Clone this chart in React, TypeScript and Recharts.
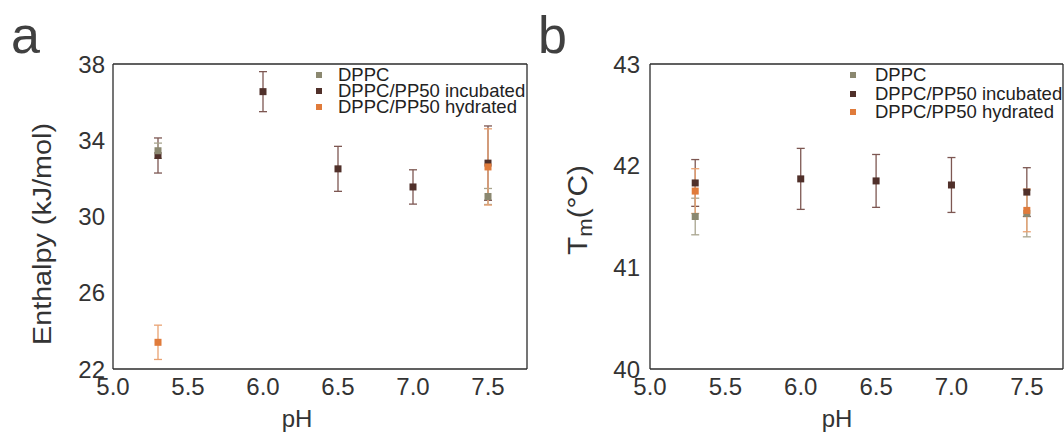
import React from 'react';
import { ScatterChart, Scatter, XAxis, YAxis, ErrorBar, Legend } from 'recharts';

const FONT = '"Liberation Sans", Arial, Helvetica, sans-serif';

// series (legend order)
const seriesNames = ['DPPC', 'DPPC/PP50 incubated', 'DPPC/PP50 hydrated'];
const seriesColors = ['#8b8870', '#50302a', '#e07b3b'];
const errorColors = ['#a8a48e', '#7d5752', '#e9a272'];

// x values (pH)
const phDppc = [5.3, 7.5];
const phIncubated = [5.3, 6.0, 6.5, 7.0, 7.5];
const phHydrated = [5.3, 7.5];

// panel a: enthalpy (kJ/mol)
const enthalpyDppc = [33.45, 31.05];
const enthalpyDppcErr = [0.4, 0.42];
const enthalpyIncubated = [33.2, 36.55, 32.5, 31.55, 32.8];
const enthalpyIncubatedErr = [0.92, 1.05, 1.18, 0.9, 1.95];
const enthalpyHydrated = [23.4, 32.6];
const enthalpyHydratedErr = [0.9, 2.0];

// panel b: Tm (°C)
const tmDppc = [41.5, 41.53];
const tmDppcErr = [0.18, 0.23];
const tmIncubated = [41.83, 41.87, 41.85, 41.81, 41.74];
const tmIncubatedErr = [0.23, 0.3, 0.26, 0.27, 0.24];
const tmHydrated = [41.75, 41.56];
const tmHydratedErr = [0.22, 0.21];

// ticks
const xLabelTicks = [5.0, 5.5, 6.0, 6.5, 7.0, 7.5];
const xMinorTicks = [5.25, 5.75, 6.25, 6.75, 7.25];
const enthalpyLabelTicks = [22, 26, 30, 34, 38];
const enthalpyTicks = [22, 23, 24, 25, 26, 27, 28, 29, 30, 31, 32, 33, 34, 35, 36, 37, 38];
const tmLabelTicks = [40, 41, 42, 43];
const tmMinorTicks = [40.5, 41.5, 42.5];
const tmRightTicks = [40, 40.5, 41, 41.5, 42, 42.5, 43];

const toPoints = (xs: number[], ys: number[], es: number[]) =>
  xs.map((x, i) => ({ ph: x, value: ys[i], err: es[i] }));

// draw order: incubated first, then DPPC, then hydrated on top
const enthalpySeries = [
  { idx: 1, data: toPoints(phIncubated, enthalpyIncubated, enthalpyIncubatedErr) },
  { idx: 0, data: toPoints(phDppc, enthalpyDppc, enthalpyDppcErr) },
  { idx: 2, data: toPoints(phHydrated, enthalpyHydrated, enthalpyHydratedErr) },
];
const tmSeries = [
  { idx: 1, data: toPoints(phIncubated, tmIncubated, tmIncubatedErr) },
  { idx: 0, data: toPoints(phDppc, tmDppc, tmDppcErr) },
  { idx: 2, data: toPoints(phHydrated, tmHydrated, tmHydratedErr) },
];

const AXIS = '#2b2b2b';
const tickStyle = { fontSize: 24, fill: '#333', fontFamily: FONT };

const squareShape = (color: string) => (p: any) =>
  <rect x={p.cx - 3.5} y={p.cy - 3.5} width={7} height={7} fill={color} />;

const LegendBox = ({ left, top, rowH, textLeft }: any) => (
  <div style={{ position: 'absolute', left, top, fontFamily: FONT, fontSize: 18.5, color: '#222', whiteSpace: 'nowrap' }}>
    {seriesNames.map((n, i) => (
      <div key={n} style={{ position: 'relative', height: rowH, lineHeight: rowH + 'px' }}>
        <span style={{ position: 'absolute', left: 0, top: rowH / 2 - 3, width: 6, height: 6, background: seriesColors[i] }} />
        <span style={{ position: 'absolute', left: textLeft }}>{n}</span>
      </div>
    ))}
  </div>
);

const Panel = ({ width, yWidth, marginRight, xDomain, yDomain, yLabelTicks, yMajor, yMajorSize, yMinor, yRight, series, legend }: any) => (
  <ScatterChart width={width} height={434} margin={{ top: 64, right: marginRight, bottom: 0, left: 0 }}>
    <XAxis xAxisId="x" dataKey="ph" type="number" domain={xDomain} allowDataOverflow ticks={xLabelTicks}
      tickFormatter={(v: number) => v.toFixed(1)} tick={tickStyle} tickLine={false} tickSize={0} tickMargin={9}
      height={65} axisLine={{ stroke: AXIS, strokeWidth: 1.3 }} interval={0} />
    <XAxis xAxisId="xMaj" type="number" domain={xDomain} allowDataOverflow ticks={xLabelTicks} mirror height={20}
      tick={false} tickSize={6} tickLine={{ stroke: AXIS, strokeWidth: 1 }} axisLine={false} interval={0} />
    <XAxis xAxisId="xMin" type="number" domain={xDomain} allowDataOverflow ticks={xMinorTicks} mirror height={20}
      tick={false} tickSize={3} tickLine={{ stroke: AXIS, strokeWidth: 1 }} axisLine={false} interval={0} />
    <XAxis xAxisId="xTop" orientation="top" type="number" domain={xDomain} allowDataOverflow ticks={xLabelTicks} mirror height={20}
      tick={false} tickLine={false} axisLine={{ stroke: AXIS, strokeWidth: 1.3 }} interval={0} />
    <YAxis yAxisId="y" dataKey="value" type="number" domain={yDomain} allowDataOverflow ticks={yLabelTicks}
      tick={tickStyle} tickLine={false} tickSize={0} tickMargin={yWidth === 113 ? 8 : 10} width={yWidth}
      axisLine={{ stroke: AXIS, strokeWidth: 1.3 }} interval={0} />
    <YAxis yAxisId="yMaj" type="number" domain={yDomain} allowDataOverflow ticks={yMajor} mirror width={20}
      tick={false} tickSize={yMajorSize} tickLine={{ stroke: AXIS, strokeWidth: 1 }} axisLine={false} interval={0} />
    <YAxis yAxisId="yMin" type="number" domain={yDomain} allowDataOverflow ticks={yMinor} mirror width={20}
      tick={false} tickSize={3} tickLine={{ stroke: AXIS, strokeWidth: 1 }} axisLine={false} interval={0} />
    <YAxis yAxisId="yRight" orientation="right" type="number" domain={yDomain} allowDataOverflow ticks={yRight} mirror width={20}
      tick={false} tickSize={4} tickLine={{ stroke: AXIS, strokeWidth: 1 }} axisLine={{ stroke: AXIS, strokeWidth: 1.3 }} interval={0} />
    {series.map((s: any) => (
      <Scatter key={s.idx} name={seriesNames[s.idx]} data={s.data} xAxisId="x" yAxisId="y"
        fill={seriesColors[s.idx]} shape={squareShape(seriesColors[s.idx])} isAnimationActive={false}>
        <ErrorBar dataKey="err" direction="y" width={4} strokeWidth={1.3} stroke={errorColors[s.idx]} isAnimationActive={false} />
      </Scatter>
    ))}
    <Legend layout="vertical" align="center" verticalAlign="middle"
      wrapperStyle={{ top: 0, left: 0, width: 0, height: 0 }}
      content={() => <LegendBox {...legend} />} />
  </ScatterChart>
);

export default function App() {
  return (
    <div style={{ position: 'absolute', left: 0, top: 0, width: 1064, height: 434, background: '#fff', overflow: 'hidden' }}>
      <div style={{ position: 'absolute', left: 0, top: 0 }}>
        <Panel width={540} yWidth={113} marginRight={13} xDomain={[5, 7.76]} yDomain={[22, 38]}
          yLabelTicks={enthalpyLabelTicks} yMajor={enthalpyTicks} yMajorSize={6} yMinor={[]} yRight={enthalpyTicks}
          series={enthalpySeries} legend={{ left: 316, top: 67, rowH: 16, textLeft: 22 }} />
      </div>
      <div style={{ position: 'absolute', left: 540, top: 0 }}>
        <Panel width={524} yWidth={110} marginRight={1} xDomain={[5, 7.74]} yDomain={[40, 43]}
          yLabelTicks={tmLabelTicks} yMajor={tmLabelTicks} yMajorSize={7} yMinor={tmMinorTicks} yRight={tmRightTicks}
          series={tmSeries} legend={{ left: 310, top: 66, rowH: 18.5, textLeft: 25 }} />
      </div>
      <svg width={1064} height={434} style={{ position: 'absolute', left: 0, top: 0, pointerEvents: 'none' }}
        fontFamily={FONT}>
        <text x={11} y={53} fontSize={52} fill="#404040">a</text>
        <text x={538} y={53} fontSize={52} fill="#404040">b</text>
        <text transform="translate(51,234) rotate(-90)" textAnchor="middle" fontSize={26} fill="#333"
          textLength={222} lengthAdjust="spacingAndGlyphs">Enthalpy (kJ/mol)</text>
        <text transform="translate(587,210) rotate(-90)" textAnchor="middle" fontSize={27} fill="#333"
          textLength={90} lengthAdjust="spacingAndGlyphs">
          T<tspan fontSize={20} dy={5}>m</tspan><tspan dy={-5}>(°C)</tspan>
        </text>
        <text x={297} y={427} textAnchor="middle" fontSize={24} fill="#333">pH</text>
        <text x={837} y={427} textAnchor="middle" fontSize={24} fill="#333">pH</text>
      </svg>
    </div>
  );
}
